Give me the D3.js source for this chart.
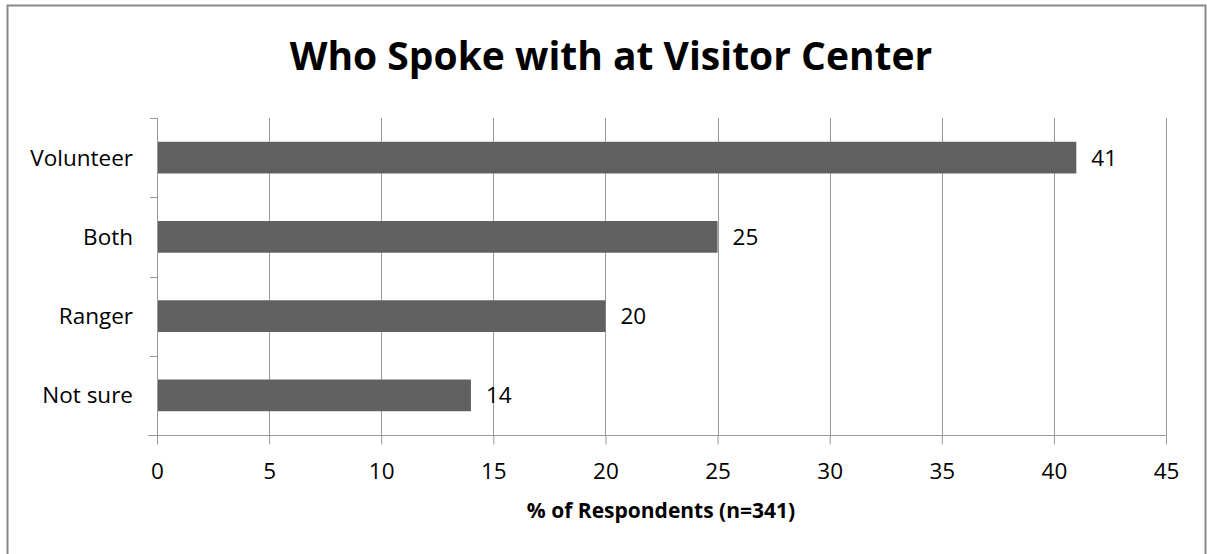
<!DOCTYPE html>
<html>
<head>
<meta charset="utf-8">
<script src="https://cdn.jsdelivr.net/npm/d3@7"></script>
<style>
  html, body { margin: 0; padding: 0; background: #fff; }
  svg { display: block; }
  text { font-family: "Open Sans", sans-serif; fill: #000; }
</style>
</head>
<body>
<svg id="chart" width="1207" height="554"></svg>
<script>
// Survey responses: who visitors spoke with at the visitor center
const categories = ["Volunteer", "Both", "Ranger", "Not sure"];
const percents = [41, 25, 20, 14];
const xTicks = [0, 5, 10, 15, 20, 25, 30, 35, 40, 45];
const chartTitle = "Who Spoke with at Visitor Center";
const xTitle = "% of Respondents (n=341)";

const svg = d3.select("#chart");
const W = 1207, H = 554;
const margin = { left: 157, right: 41, top: 118, bottom: 119 };
const labelSize = 22.5;

// outer frame
svg.append("rect")
  .attr("x", 7.5).attr("y", 5.5)
  .attr("width", W - 9).attr("height", H + 10)
  .attr("fill", "#fff").attr("stroke", "#888").attr("stroke-width", 2);

const x = d3.scaleLinear().domain([0, 45]).range([margin.left, W - margin.right]);
const y = d3.scaleBand().domain(categories)
  .range([margin.top, H - margin.bottom])
  .paddingInner(0.6).paddingOuter(0.3);

const y0 = margin.top, y1 = H - margin.bottom;

// vertical gridlines
svg.append("g").selectAll("line")
  .data(xTicks.filter(t => t > 0))
  .join("line")
  .attr("x1", d => Math.round(x(d)) + 0.5).attr("x2", d => Math.round(x(d)) + 0.5)
  .attr("y1", y0).attr("y2", y1)
  .attr("stroke", "#999").attr("stroke-width", 1);

// bars
svg.append("g").selectAll("rect")
  .data(categories)
  .join("rect")
  .attr("x", x(0))
  .attr("y", d => y(d))
  .attr("width", (d, i) => x(percents[i]) - x(0))
  .attr("height", y.bandwidth())
  .attr("fill", "#606060");

// value labels
svg.append("g").selectAll("text")
  .data(categories)
  .join("text")
  .attr("x", (d, i) => x(percents[i]) + 15)
  .attr("y", d => y(d) + y.bandwidth() / 2)
  .attr("dy", "0.36em")
  .attr("font-size", labelSize)
  .text((d, i) => percents[i]);

// x axis
const xAxis = d3.axisBottom(x).tickValues(xTicks).tickSize(9).tickSizeOuter(0);
const gx = svg.append("g")
  .attr("transform", `translate(0,${y1 + 0.5})`)
  .call(xAxis);
gx.select(".domain").attr("stroke", "#999").attr("d", `M${x(0) - 9},0H${x(45) + 0.5}`);
gx.selectAll(".tick line").attr("stroke", "#999");
gx.selectAll(".tick text")
  .attr("y", 43).attr("dy", 0)
  .attr("font-size", labelSize).attr("font-family", "'Open Sans', sans-serif").attr("fill", "#000");

// y axis: boundary ticks between categories
const bounds = d3.range(categories.length + 1).map(i => y0 + (y1 - y0) * i / categories.length);
const gy = svg.append("g");
gy.append("line")
  .attr("x1", x(0) + 0.5).attr("x2", x(0) + 0.5)
  .attr("y1", y0).attr("y2", y1)
  .attr("stroke", "#999");
gy.selectAll("line.tk").data(bounds).join("line")
  .attr("class", "tk")
  .attr("x1", x(0) - 7).attr("x2", x(0) + 0.5)
  .attr("y1", d => Math.round(d) + 0.5).attr("y2", d => Math.round(d) + 0.5)
  .attr("stroke", "#999");
gy.selectAll("text").data(categories).join("text")
  .attr("x", x(0) - 24)
  .attr("y", d => y(d) + y.bandwidth() / 2)
  .attr("dy", "0.36em")
  .attr("text-anchor", "end")
  .attr("font-size", labelSize)
  .text(d => d);

// titles
svg.append("text")
  .attr("x", 611).attr("y", 70)
  .attr("text-anchor", "middle")
  .attr("font-size", 39).attr("font-weight", "bold")
  .text(chartTitle);

svg.append("text")
  .attr("x", 661).attr("y", 518)
  .attr("text-anchor", "middle")
  .attr("font-size", 21).attr("font-weight", "bold")
  .text(xTitle);
</script>
</body>
</html>
